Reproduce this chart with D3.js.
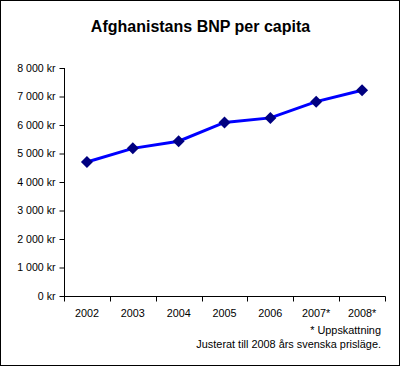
<!DOCTYPE html>
<html><head><meta charset="utf-8">
<script src="https://cdn.jsdelivr.net/npm/d3@7"></script>
<style>
html,body{margin:0;padding:0;background:#fff;}
text{font-family:"Liberation Sans",Arial,sans-serif;}
</style></head>
<body>
<svg id="c" width="400" height="366"></svg>
<script>
const years = ["2002","2003","2004","2005","2006","2007*","2008*"];
const gdp = [4700, 5180, 5430, 6090, 6250, 6820, 7220];
const yTicks = [0,1000,2000,3000,4000,5000,6000,7000,8000];
const title = "Afghanistans BNP per capita";
const notes = ["* Uppskattning", "Justerat till 2008 års svenska prisläge."];

(function(){
const svg = d3.select("#c");
svg.append("rect").attr("x",0.5).attr("y",0.5).attr("width",399).attr("height",365)
  .attr("fill","#fff").attr("stroke","#000").attr("stroke-width",1);

const pL=64, pR=385, pT=68, pB=296;
const x = d3.scaleBand().domain(years).range([pL,pR]);
const y = d3.scaleLinear().domain([0,8000]).range([pB,pT]);
const fmt = v => d3.format(",")(v).replace(/,/g," ") + " kr";

svg.append("text").attr("x",200.5).attr("y",32).attr("text-anchor","middle")
  .attr("font-size",16).attr("font-weight","bold").text(title);

// y axis
const ya = svg.append("g").attr("transform",`translate(${pL+0.5},0)`)
  .call(d3.axisLeft(y).tickValues(yTicks).tickFormat(fmt).tickSize(5).tickPadding(4));
ya.selectAll("text").attr("font-size",10.6).attr("fill","#000").style("font-family","Liberation Sans, Arial, sans-serif");
ya.select(".domain").attr("d",`M0,${pT}V${pB+0.5}`);
ya.selectAll(".tick line").attr("stroke","#000");

// x axis
const xa = svg.append("g").attr("transform",`translate(0,${pB+0.5})`);
xa.append("line").attr("x1",pL).attr("x2",pR+0.5).attr("stroke","#000");
const bounds = years.map(d=>x(d)).concat([pR]);
xa.selectAll("line.t").data(bounds).join("line").attr("class","t")
  .attr("x1",d=>Math.round(d)+0.5).attr("x2",d=>Math.round(d)+0.5).attr("y1",0).attr("y2",5).attr("stroke","#000");
xa.selectAll("text").data(years).join("text")
  .attr("x",d=>x(d)+x.bandwidth()/2).attr("y",20).attr("text-anchor","middle")
  .attr("font-size",10.8).text(d=>d);

// line
const line = d3.line().x((d,i)=>x(years[i])+x.bandwidth()/2).y(d=>y(d));
svg.append("path").datum(gdp).attr("d",line).attr("fill","none")
  .attr("stroke","#0000ff").attr("stroke-width",3);
svg.selectAll("path.m").data(gdp).join("path").attr("class","m")
  .attr("transform",(d,i)=>`translate(${x(years[i])+x.bandwidth()/2},${y(d)})`)
  .attr("d","M0,-6L6,0L0,6L-6,0Z").attr("fill","#000080");

svg.selectAll("text.n").data(notes).join("text").attr("class","n")
  .attr("x",381).attr("y",(d,i)=>334+i*14).attr("text-anchor","end")
  .attr("font-size",10.9).text(d=>d);
})();
</script>
</body></html>
